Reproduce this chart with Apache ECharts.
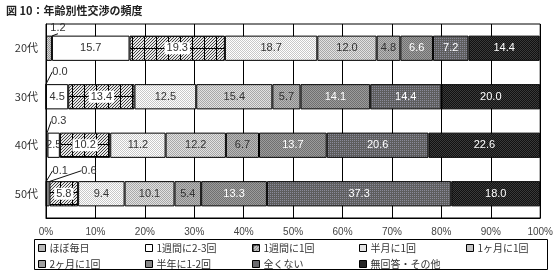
<!DOCTYPE html>
<html>
<head>
<meta charset="utf-8">
<script src="https://cdn.jsdelivr.net/npm/echarts@6/dist/echarts.min.js"></script>
<style>
html,body{margin:0;padding:0;background:#fff;}
#wrap{position:relative;width:556px;height:278px;}
#chart{width:556px;height:278px;}
#t{position:absolute;left:6px;top:4px;font:bold 11px "Noto Sans CJK JP",sans-serif;color:#222;display:none;}
</style>
</head>
<body>
<div id="wrap"><div id="chart"></div><div id="t">図 10：年齢別性交渉の頻度</div></div>
<script>
// ---- data ----
const categories = ['20代', '30代', '40代', '50代'];
const seriesNames = ['ほぼ毎日', '1週間に2-3回', '1週間に1回', '半月に1回', '1ヶ月に1回', '2ヶ月に1回', '半年に1-2回', '全くない', '無回答・その他'];
const almostDaily     = [1.2, 0.0, 0.3, 0.1];
const twoThreePerWeek = [15.7, 4.5, 2.5, 0.6];
const oncePerWeek     = [19.3, 13.4, 10.2, 5.8];
const oncePerHalfMonth= [18.7, 12.5, 11.2, 9.4];
const oncePerMonth    = [12.0, 15.4, 12.2, 10.1];
const oncePerTwoMonths= [4.8, 5.7, 6.7, 5.4];
const halfYear        = [6.6, 14.1, 13.7, 13.3];
const never           = [7.2, 14.4, 20.6, 37.3];
const noAnswer        = [14.4, 20.0, 22.6, 18.0];
const seriesValues = [almostDaily, twoThreePerWeek, oncePerWeek, oncePerHalfMonth, oncePerMonth, oncePerTwoMonths, halfYear, never, noAnswer];
const xTickValues = [0, 10, 20, 30, 40, 50, 60, 70, 80, 90, 100];
const titleText = '図 10：年齢別性交渉の頻度';

// ---- patterns (style only) ----
function dotPattern(bg, fg, mode) {
  const c = document.createElement('canvas');
  c.width = 4; c.height = 4;
  const g = c.getContext('2d');
  g.fillStyle = bg; g.fillRect(0, 0, 4, 4);
  g.fillStyle = fg;
  for (let y = 0; y < 4; y++) for (let x = 0; x < 4; x++) {
    let on = false;
    if (mode === 'checker') on = (x + y) % 2 === 0;
    else if (mode === 'half') on = (x % 2 === 0 && y % 2 === 0);
    if (on) g.fillRect(x, y, 1, 1);
  }
  return { image: c, repeat: 'repeat' };
}
function hatchPattern() {
  const s = 12;
  const c = document.createElement('canvas');
  c.width = s; c.height = s;
  const g = c.getContext('2d');
  g.fillStyle = '#e8e8e8'; g.fillRect(0, 0, s, s);
  g.fillStyle = '#444';
  for (let y = 0; y < s; y++) for (let x = 0; x < s; x++) {
    if ((x + y) % 3 === 0) g.fillRect(x, y, 1, 1);
  }
  g.fillStyle = '#000';
  g.fillRect(0, 0, s, 1);
  g.fillRect(0, 0, 1, s);
  return { image: c, repeat: 'repeat' };
}
const labelColors = ['#333', '#333', '#333', '#333', '#333', '#333', '#fff', '#fff', '#fff'];
const labelShift = {
  0: [[9, -20], [14, -25], [12, -24], [14, -23]],
  1: [null, null, null, [41, -23]]
};
const FONT = '"Liberation Sans", "Noto Sans CJK JP", sans-serif';
const JFONT = '"Noto Sans CJK JP", sans-serif';

function build(off) {
  const fills = [
    dotPattern('#d8d8d8', '#9a9a9a', 'checker'),
    '#ffffff',
    off.hatch ? dotPattern('#bdbdbd', '#555555', 'checker') : hatchPattern(),
    dotPattern('#ffffff', '#c8c8c8', 'checker'),
    dotPattern('#e2e2e2', '#a8a8a8', 'checker'),
    dotPattern('#b8b8b8', '#888888', 'checker'),
    dotPattern('#9c9c9c', '#707070', 'checker'),
    dotPattern('#5e5e5e', '#8a8a9a', 'half'),
    dotPattern('#111111', '#3a3a3a', 'checker')
  ];
  const series = seriesNames.map((name, si) => {
    const label = { show: true, position: 'inside', formatter: p => p.value.toFixed(1), fontSize: 11, color: labelColors[si] };
    if (!off.labelFont) label.fontFamily = FONT;
    if (si === 2 && !off.labelBg) { label.backgroundColor = '#fff'; label.padding = [1, 2, 0, 2]; }
    const s = {
      name: name, type: 'bar', stack: 'total', barCategoryGap: '48%',
      data: seriesValues[si],
      itemStyle: { color: fills[si], borderColor: '#000', borderWidth: 1 },
      label: label
    };
    if (!off.layout) {
      s.labelLine = { show: true, lineStyle: { color: '#111', width: 1 } };
      s.labelLayout = function (params) {
        const sh = labelShift[si] && labelShift[si][params.dataIndex];
        if (sh) return { dx: sh[0], dy: sh[1], hideOverlap: false };
        return { hideOverlap: false };
      };
    }
    return s;
  });
  const legends = seriesNames.map((name, i) => {
    const l = { data: [name], left: 38 + (i % 5) * 107, top: i < 5 ? 242 : 258 };
    if (!off.legendStyle) {
      Object.assign(l, {
        padding: 0, itemWidth: 7, itemHeight: 7, itemGap: 0,
        itemStyle: { borderColor: '#000', borderWidth: 1 },
        textStyle: { fontSize: 10, color: '#333', fontFamily: JFONT, padding: [0, 0, 0, -1], lineHeight: 12 },
        selectedMode: false, icon: 'rect'
      });
    } else {
      Object.assign(l, { padding: 0, itemWidth: 7, itemHeight: 7, textStyle: { fontSize: 10 } });
    }
    return l;
  });
  const o = {
    animation: false,
    grid: { left: 46, right: 14, top: 24, bottom: 60, show: true, borderColor: '#000' },
    xAxis: {
      type: 'value',
      min: xTickValues[0], max: xTickValues[xTickValues.length - 1], interval: 10,
      axisLine: { show: true, lineStyle: { color: '#000' } },
      splitLine: { show: true, lineStyle: { color: '#000', width: 1 } },
      axisLabel: { formatter: '{value}%', fontSize: 10, color: '#444', margin: 9 }
    },
    yAxis: off.yStyle
      ? { type: 'category', data: categories, inverse: true, axisTick: { show: false } }
      : { type: 'category', data: categories, inverse: true,
          axisLine: { show: true, lineStyle: { color: '#000' } },
          axisTick: { show: false },
          axisLabel: { fontSize: 11, color: '#333', margin: 8, fontFamily: JFONT } },
    series: series
  };
  if (!off.bg) o.backgroundColor = '#fff';
  if (!off.legend) o.legend = legends;
  if (!off.title) o.title = { text: titleText, left: 6, top: 5, padding: 0, textStyle: { fontSize: 11, fontWeight: 'bold', color: '#222', fontFamily: JFONT } };
  if (!off.box) o.graphic = [{ type: 'rect', shape: { x: 34.5, y: 239.5, width: 513, height: 30 }, style: { fill: 'none', stroke: '#000', lineWidth: 1 }, silent: true }];
  return o;
}

const chart = echarts.init(document.getElementById('chart'), null, { renderer: 'canvas' });

function linesVisible() {
  try {
    chart.getZr().refreshImmediately();
    const cv = chart.getDom().querySelector('canvas');
    const ctx = cv.getContext('2d');
    const x = Math.round(chart.convertToPixel({ xAxisIndex: 0 }, 50));
    const y0 = chart.convertToPixel({ yAxisIndex: 0 }, 0);
    const y1 = chart.convertToPixel({ yAxisIndex: 0 }, 1);
    const y = Math.round((y0 + y1) / 2);
    const d = ctx.getImageData(x - 2, y, 5, 1).data;
    let mn = 255;
    for (let i = 0; i < d.length; i += 4) mn = Math.min(mn, (d[i] + d[i + 1] + d[i + 2]) / 3);
    return mn < 150;
  } catch (e) { return true; }
}
function tryRender(off) {
  chart.clear();
  chart.setOption(build(off), true);
  return linesVisible();
}

const featureKeys = ['labelBg', 'hatch', 'labelFont', 'legendStyle', 'box', 'layout', 'yStyle', 'bg', 'title', 'legend'];
let off = {};
if (!tryRender(off)) {
  let found = false;
  for (const k of featureKeys) {
    const o = {}; o[k] = true;
    if (tryRender(o)) { off = o; found = true; break; }
  }
  if (!found) {
    const acc = {};
    for (const k of featureKeys) {
      acc[k] = true;
      if (tryRender(acc)) { off = Object.assign({}, acc); found = true; break; }
    }
    if (!found) off = {};
  }
  tryRender(off);
}
if (off.title) document.getElementById('t').style.display = 'block';
</script>
</body>
</html>
